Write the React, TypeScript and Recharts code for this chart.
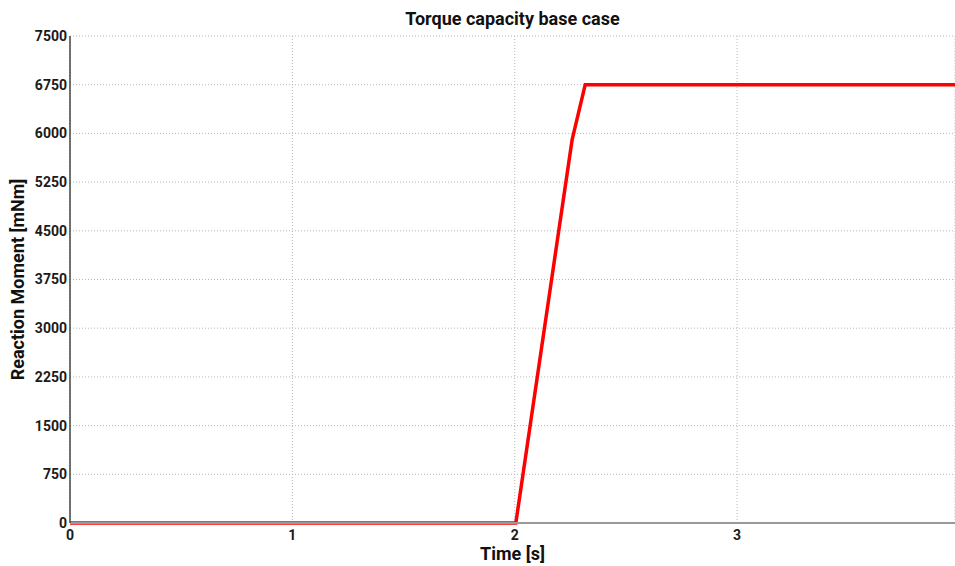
import {
  CartesianGrid,
  Label,
  Line,
  LineChart,
  XAxis,
  YAxis,
} from "recharts";

const times = [0, 2.005, 2.258, 2.317, 3.98];
const moments = [0, 0, 5900, 6750, 6750];

const xTicks = [0, 1, 2, 3];
const xMinorTicks = [0.5, 1.5, 2.5, 3.5];
const yTicks = [0, 750, 1500, 2250, 3000, 3750, 4500, 5250, 6000, 6750, 7500];
const yMinorTicks = [375, 1125, 1875, 2625, 3375, 4125, 4875, 5625, 6375, 7125];

const data = times.map((t, i) => ({ t, m: moments[i] }));

const font = "Roboto, 'DejaVu Sans', sans-serif";
const tickStyle = { fontSize: 14, fontWeight: 700, fill: "#1a1a1a", fontFamily: font };

export default function App() {
  return (
    <div style={{ position: "absolute", left: 0, top: 0, width: 955, height: 566, background: "#fff" }}>
      <div
        style={{
          position: "absolute",
          left: 70,
          width: 885,
          top: 8,
          textAlign: "center",
          fontFamily: font,
          fontWeight: 700,
          fontSize: 18,
          color: "#111",
        }}
      >
        Torque capacity base case
      </div>
      <LineChart
        width={955}
        height={566}
        data={data}
        margin={{ top: 36, right: 0, left: 0, bottom: 0 }}
      >
        <CartesianGrid stroke="#b8b8b8" strokeDasharray="1 2" />
        <XAxis
          dataKey="t"
          type="number"
          domain={[0, 3.98]}
          ticks={xTicks}
          allowDataOverflow
          height={43}
          stroke="#999"
          strokeWidth={2}
          tickLine={false}
          tickSize={0}
          tickMargin={7}
          tick={tickStyle}
        >
          <Label
            value="Time [s]"
            position="insideBottom"
            offset={6}
            style={{ fontSize: 18, fontWeight: 700, fill: "#111", fontFamily: font }}
          />
        </XAxis>
        <XAxis
          xAxisId="minor"
          dataKey="t"
          type="number"
          domain={[0, 3.98]}
          ticks={xMinorTicks}
          mirror
          height={0}
          axisLine={false}
          tickSize={3}
          tickLine={{ stroke: "#888" }}
          tickFormatter={() => ""}
        />
        <YAxis
          type="number"
          domain={[0, 7500]}
          ticks={yTicks}
          width={70}
          stroke="#444"
          strokeWidth={1.5}
          tickLine={false}
          tickSize={0}
          tickMargin={3}
          tick={tickStyle}
        >
          <Label
            value="Reaction Moment [mNm]"
            angle={-90}
            position="insideLeft"
            offset={18}
            style={{ fontSize: 18, fontWeight: 700, fill: "#111", fontFamily: font, textAnchor: "middle" }}
          />
        </YAxis>
        <YAxis
          yAxisId="minor"
          type="number"
          domain={[0, 7500]}
          ticks={yMinorTicks}
          mirror
          width={0}
          axisLine={false}
          tickSize={3}
          tickLine={{ stroke: "#888" }}
          tickFormatter={() => ""}
        />
        <Line
          type="linear"
          dataKey="m"
          stroke="#ff0000"
          strokeWidth={3.5}
          dot={false}
          activeDot={false}
          isAnimationActive={false}
        />
      </LineChart>
    </div>
  );
}
